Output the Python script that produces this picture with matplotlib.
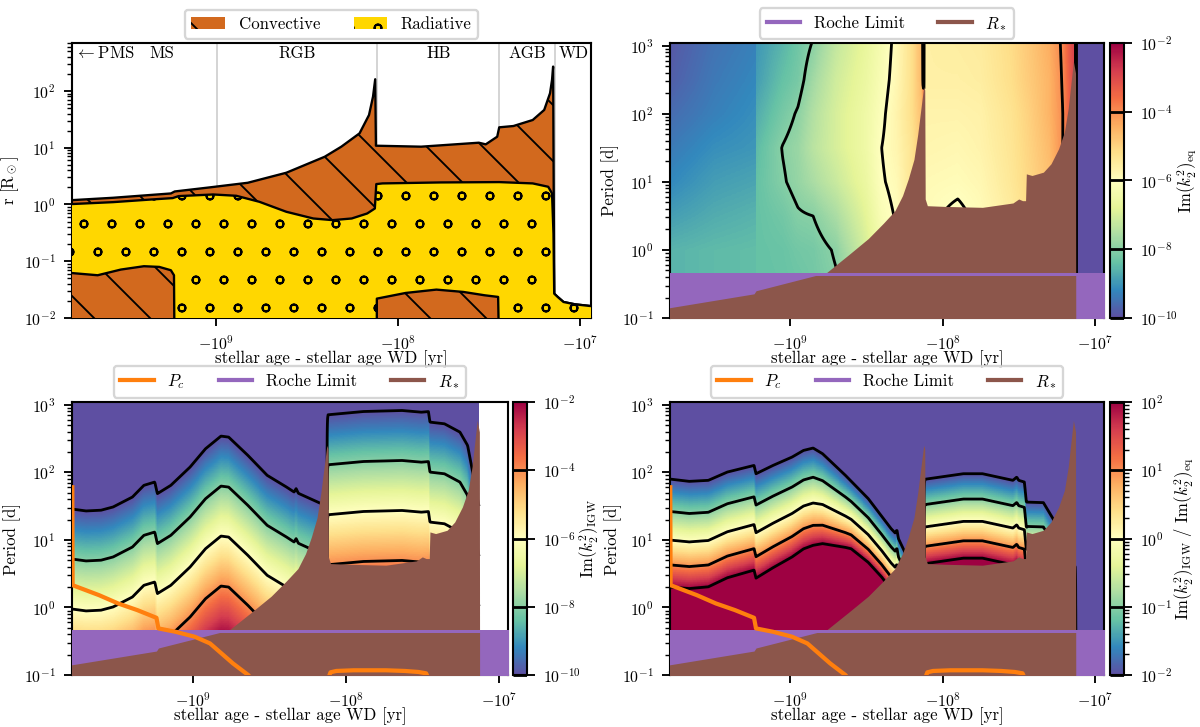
import numpy as np
import matplotlib
matplotlib.use('Agg')
import matplotlib.pyplot as plt
import matplotlib.hatch as mhatch
from matplotlib.colors import LogNorm
from matplotlib.patches import Patch
from matplotlib.lines import Line2D
from matplotlib.ticker import FixedLocator, NullLocator, FuncFormatter
import matplotlib.transforms as mtransforms

plt.rcParams.update({
    'font.family': 'serif',
    'font.serif': ['cmr10'],
    'mathtext.fontset': 'cm',
    'axes.formatter.use_mathtext': True,
    'font.size': 7.2,
    'xtick.labelsize': 6.8,
    'ytick.labelsize': 6.8,
    'hatch.linewidth': 0.8,
    'axes.linewidth': 0.9,
})

# smaller ring hatch ('o') to match the reference's small circles
try:
    class _TinyCircles(mhatch.Circles):
        size = 0.13

        def __init__(self, hatch, density):
            self.num_rows = hatch.count('o') * density
            super().__init__(hatch, density)

    mhatch._hatch_types = [(_TinyCircles if c is mhatch.SmallCircles else c) for c in mhatch._hatch_types]
except Exception:
    pass

# ---------------- data (log10 |stellar age - age WD| in yr) ----------------
# top-left: stellar structure, log10 r [Rsun]
surf_lt = [9.80, 9.79, 9.564, 9.247, 9.226, 9.036, 8.825, 8.613, 8.402, 8.311, 8.211, 8.159, 8.137,
           8.125, 8.121, 7.873, 7.556, 7.518, 7.455, 7.444, 7.366, 7.260, 7.197, 7.165, 7.154, 7.148,
           7.142, 7.123, 7.091, 7.028, 6.93]
surf_lr = [0.400, 0.076, 0.118, 0.194, 0.229, 0.300, 0.382, 0.559, 0.841, 1.018, 1.253, 1.576, 1.900,
           2.206, 1.035, 1.018, 1.088, 1.059, 1.194, 1.359, 1.382, 1.488, 1.665, 1.959, 2.194, 2.429,
           -1.571, -1.629, -1.718, -1.759, -1.794]
rad_top_lt = [9.80, 9.564, 9.353, 9.237, 9.205, 9.015, 8.888, 8.761, 8.613, 8.465, 8.359, 8.254, 8.169,
              8.127, 8.119, 8.085, 7.767, 7.444, 7.260, 7.175, 7.154, 7.146, 7.142, 7.123, 7.091, 7.028, 6.93]
rad_top_lr = [0.006, 0.041, 0.088, 0.112, 0.147, 0.176, 0.153, 0.047, -0.129, -0.247, -0.276, -0.247,
              -0.159, -0.071, 0.359, 0.371, 0.388, 0.394, 0.371, 0.312, 0.194, -0.512, -1.571, -1.629,
              -1.718, -1.759, -1.794]
core_ms_lt = [9.80, 9.649, 9.522, 9.395, 9.311, 9.247, 9.230, 9.226]
core_ms_lr = [-1.206, -1.247, -1.147, -1.088, -1.100, -1.159, -1.247, -3.0]
core_hb_lt = [8.1165, 8.116, 7.958, 7.789, 7.641, 7.524, 7.450, 7.442]
core_hb_lr = [-3.0, -1.659, -1.559, -1.500, -1.541, -1.600, -1.629, -3.0]
phase_bounds_lt = [8.994, 8.116, 7.444, 7.140]
phase_names = ['MS', 'RGB', 'HB', 'AGB', 'WD']
phase_label_lt = [9.298, 8.554, 7.778, 7.288, 7.034]

# shared for period panels: log10 P [d]
rstar_lt = [9.80, 9.238, 9.225, 8.763, 8.613, 8.488, 8.388, 8.313, 8.263, 8.225, 8.188, 8.163, 8.138,
            8.124, 8.117, 8.114, 8.100, 7.988, 7.738, 7.538, 7.500, 7.475, 7.455, 7.450, 7.413, 7.338,
            7.288, 7.238, 7.200, 7.175, 7.158, 7.141, 7.127, 7.125, 6.90]
rstar_lp = [-0.852, -0.645, -0.600, -0.335, -0.064, 0.167, 0.394, 0.576, 0.798, 1.044, 1.33, 1.70, 2.15,
            2.400, 2.350, 0.749, 0.650, 0.640, 0.626, 0.690, 0.749, 0.724, 0.724, 1.118, 1.094, 1.143,
            1.266, 1.488, 1.734, 2.079, 2.424, 2.770, 2.600, -2.0, -2.0]
roche_P = 0.465
roche_band_lo_P = 0.415
pc1_lt = [9.788, 9.786, 9.613, 9.488, 9.363, 9.238, 9.225, 9.113, 8.988, 8.888, 8.813, 8.738, 8.638, 8.60]
pc1_lp = [1.78, 0.33, 0.182, 0.059, -0.039, -0.153, -0.310, -0.360, -0.433, -0.532, -0.680, -0.828, -1.0, -1.1]
pc2_lt = [8.115, 8.10, 8.063, 7.95, 7.863, 7.738, 7.613, 7.525, 7.475, 7.46]
pc2_lp = [-1.05, -0.96, -0.94, -0.93, -0.93, -0.93, -0.94, -0.955, -0.975, -1.05]

# bottom-left: position of the 1e-10 contour of Im(k2)_IGW, and spacing per 2 decades
bl_top_lt = [9.81, 9.698, 9.60, 9.521, 9.395, 9.320, 9.249, 9.232, 9.144, 9.018, 8.917, 8.816, 8.766,
             8.640, 8.514, 8.388, 8.338, 8.325, 8.31, 8.161, 8.121, 8.119, 7.884, 7.632, 7.506, 7.46,
             7.45, 7.355, 7.254, 7.204, 7.179, 7.13]
bl_top_lp = [1.463, 1.429, 1.44, 1.488, 1.635, 1.808, 1.857, 1.685, 1.808, 2.079, 2.350, 2.537, 2.522,
             2.251, 1.956, 1.783, 1.709, 1.76, 1.69, 1.537, 1.45, 2.852, 2.901, 2.916, 2.891, 2.90,
             2.744, 2.719, 2.596, 2.399, 2.103, 1.5]
bl_gap = 0.74

# bottom-right: position of the 1e-2 contour of the ratio and distance to the 1e2 contour
br_top_lt = [9.81, 9.663, 9.538, 9.413, 9.238, 9.225, 9.113, 8.988, 8.913, 8.850, 8.788, 8.638, 8.488,
             8.338, 8.31, 8.30, 8.29, 8.238, 8.20, 8.121, 8.119, 7.863, 7.738, 7.538, 7.513, 7.50,
             7.463, 7.45, 7.338, 7.275, 7.20, 7.13]
br_top_lp = [1.906, 1.867, 1.882, 2.005, 2.103, 1.980, 2.103, 2.227, 2.325, 2.360, 2.276, 1.956, 1.611,
             1.167, 1.10, 1.15, 1.02, 0.773, 0.62, 0.35, 1.897, 1.980, 1.980, 1.882, 1.93, 1.882,
             1.857, 1.56, 1.552, 1.315, 1.0, 0.6]
br_span_lt = [9.81, 9.24, 8.85, 8.60, 8.40, 8.121, 8.119, 7.45, 7.44, 7.13]
br_span = [1.60, 1.55, 1.44, 1.0, 0.9, 0.9, 1.25, 1.25, 1.2, 1.2]
br_frac = [0.0, 0.30, 0.565, 0.795, 1.0]

# top-right: log10 Im(k2)_eq at nodes (rows: ages, columns: periods)
tr_lt = [9.81, 9.50, 9.227, 9.223, 9.05, 8.95, 8.85, 8.70, 8.50, 8.40, 8.30, 8.20, 8.14, 8.128, 8.121,
         8.119, 7.90, 7.75, 7.55, 7.445, 7.44, 7.30, 7.21, 7.15, 7.128, 7.126, 6.90]
tr_lp = [-1.0, 0.0, 0.5, 1.0, 1.5, 2.0, 2.5, 3.1]
tr_val = [
    [-8.6, -8.6, -8.9, -9.2, -9.4, -9.6, -9.8, -9.9],
    [-8.5, -8.5, -8.7, -8.9, -9.1, -9.3, -9.4, -9.5],
    [-8.45, -8.45, -8.6, -8.8, -9.0, -9.1, -9.2, -9.3],
    [-8.4, -8.4, -8.4, -8.4, -8.5, -8.7, -8.9, -9.0],
    [-8.4, -8.35, -8.25, -8.05, -7.98, -8.2, -8.4, -8.6],
    [-8.4, -8.25, -8.05, -7.85, -7.8, -7.95, -8.2, -8.3],
    [-8.3, -8.2, -8.0, -7.6, -7.4, -7.5, -7.7, -8.0],
    [-8.15, -7.95, -7.6, -7.2, -7.0, -7.0, -7.1, -7.3],
    [-7.3, -7.0, -6.8, -6.6, -6.5, -6.5, -6.6, -6.7],
    [-6.6, -6.4, -6.2, -6.05, -6.0, -6.1, -6.2, -6.3],
    [-6.1, -6.0, -5.95, -5.85, -5.75, -5.7, -5.8, -5.85],
    [-5.4, -5.4, -5.3, -5.3, -5.3, -5.2, -5.2, -5.2],
    [-5.0, -5.0, -4.9, -4.8, -4.8, -4.7, -4.6, -4.6],
    [-4.8, -4.8, -4.7, -4.6, -4.5, -4.3, -3.9, -3.8],
    [-4.8, -4.8, -4.7, -4.6, -4.5, -4.3, -3.9, -3.8],
    [-5.9, -5.9, -5.9, -5.85, -5.75, -5.7, -5.6, -5.6],
    [-6.1, -6.1, -6.1, -5.9, -5.8, -5.7, -5.6, -5.55],
    [-5.95, -5.95, -5.9, -5.8, -5.7, -5.65, -5.55, -5.5],
    [-5.6, -5.6, -5.5, -5.4, -5.35, -5.3, -5.2, -5.15],
    [-5.3, -5.3, -5.2, -5.1, -5.05, -5.0, -4.9, -4.85],
    [-5.3, -5.3, -5.2, -5.1, -5.05, -5.0, -4.9, -4.85],
    [-4.9, -4.9, -4.8, -4.7, -4.6, -4.5, -4.5, -4.4],
    [-4.3, -4.3, -4.2, -4.1, -4.0, -4.0, -3.95, -3.9],
    [-3.4, -3.4, -3.3, -3.2, -3.2, -3.1, -3.1, -3.0],
    [-3.2, -3.2, -3.1, -3.0, -3.0, -2.9, -2.9, -2.9],
    [-11.0] * 8,
    [-11.0] * 8,
]

# ---------------- helpers ----------------
conv_color = '#D2691E'
rad_color = '#FFD700'
X_LEFT, X_RIGHT = 9.79, 6.94


def tx(lt):
    return -10.0 ** np.asarray(lt, dtype=float)


def interp_desc(xq, xp, fp):
    xp = np.asarray(xp, float)[::-1]
    fp = np.asarray(fp, float)[::-1]
    return np.interp(xq, xp, fp)


def setup_x(ax):
    ax.set_xscale('symlog', linthresh=1e3)
    ax.set_xlim(tx(X_LEFT), tx(X_RIGHT))
    ax.xaxis.set_major_locator(FixedLocator([-1e9, -1e8, -1e7]))
    ax.xaxis.set_major_formatter(FuncFormatter(lambda v, p: r'$-10^{%d}$' % round(np.log10(-v))))
    ax.xaxis.set_minor_locator(NullLocator())
    ax.set_xlabel('stellar age - stellar age WD [yr]', labelpad=-1)


fig = plt.figure(figsize=(1200 / 168, 727 / 168), dpi=168)
axTL = fig.add_axes([0.06, 0.5626, 0.4325, 0.3783])
axTR = fig.add_axes([0.5583, 0.5626, 0.3617, 0.3783])
caxTR = fig.add_axes([0.925, 0.5626, 0.0117, 0.3783])
axBL = fig.add_axes([0.06, 0.0715, 0.3633, 0.3755])
caxBL = fig.add_axes([0.4275, 0.0715, 0.0117, 0.3755])
axBR = fig.add_axes([0.5583, 0.0715, 0.3617, 0.3755])
caxBR = fig.add_axes([0.925, 0.0715, 0.0117, 0.3755])

LEG_KW = dict(loc='lower center', bbox_to_anchor=(0.5, 1.0), borderaxespad=0.25)

# ---------------- top-left ----------------
ax = axTL
ax.set_yscale('log')
ax.fill_between(tx(surf_lt), 1e-3, 10 ** np.array(surf_lr), facecolor=conv_color, edgecolor='k',
                hatch='\\', lw=1.0, zorder=2)
ax.fill_between(tx(rad_top_lt), 1e-3, 10 ** np.array(rad_top_lr), facecolor=rad_color, edgecolor='k',
                hatch='o', lw=1.0, zorder=3)
for clt, clr in [(core_ms_lt, core_ms_lr), (core_hb_lt, core_hb_lr)]:
    ax.fill_between(tx(clt), 1e-3, 10 ** np.array(clr), facecolor=conv_color, edgecolor='k',
                    hatch='\\', lw=1.0, zorder=4)
for b in phase_bounds_lt:
    ax.axvline(tx(b), color='lightgray', lw=0.8, zorder=1)
trans = mtransforms.blended_transform_factory(ax.transData, ax.transAxes)
for name, plt_lt in zip(phase_names, phase_label_lt):
    ax.text(tx(plt_lt), 0.963, name, transform=trans, ha='center', va='center', zorder=6)
ax.text(0.006, 0.963, r'$\leftarrow$PMS', transform=ax.transAxes, ha='left', va='center', zorder=6)
setup_x(ax)
ax.set_ylim(1e-2, 700)
ax.set_ylabel(r'r [$\mathrm{R}_\odot$]', labelpad=1)
ax.legend(handles=[Patch(facecolor=conv_color, edgecolor='k', hatch='\\', lw=0, label='Convective'),
                   Patch(facecolor=rad_color, edgecolor='k', hatch='o', lw=0, label='Radiative')],
          ncol=2, **LEG_KW)

# ---------------- grids ----------------
lt_f = np.linspace(9.81, 6.92, 900)
lp_f = np.linspace(-1.05, 3.1, 420)
Xf = tx(lt_f)
Yf = 10 ** lp_f

# top-right field
tr_arr = np.array(tr_val)
cols = np.array([interp_desc(lt_f, tr_lt, tr_arr[:, j]) for j in range(len(tr_lp))])
Z_tr = np.empty((len(lp_f), len(lt_f)))
for i in range(len(lt_f)):
    Z_tr[:, i] = np.interp(lp_f, tr_lp, cols[:, i])

# bottom-left field
top_bl = interp_desc(lt_f, bl_top_lt, bl_top_lp)
Z_bl = -10.0 + (top_bl[None, :] - lp_f[:, None]) * (2.0 / bl_gap)
Z_bl[:, lt_f < 7.126] = np.nan

# bottom-right field
top_br = interp_desc(lt_f, br_top_lt, br_top_lp)
span_br = interp_desc(lt_f, br_span_lt, br_span)
d = (top_br[None, :] - lp_f[:, None]) / span_br[None, :]
lev = np.interp(d, br_frac, [0, 1, 2, 3, 4])
lev = np.where(d < 0, d / br_frac[1], lev)
lev = np.where(d > 1, 4 + (d - 1) / (1 - br_frac[3]), lev)
Z_br = -2.0 + lev
Z_br[:, lt_f < 7.126] = -5.0


def period_panel(ax, cax, Z, vmin, vmax, levels, clabel, with_pc, cbar_ticks=None, minor=True,
                 ylabelpad=1, cbarpad=1):
    norm = LogNorm(vmin=vmin, vmax=vmax)
    V = np.ma.masked_invalid(10.0 ** Z)
    mesh = ax.pcolormesh(Xf, Yf, V, cmap='Spectral_r', norm=norm, shading='nearest', zorder=1,
                         rasterized=True)
    cs = ax.contour(Xf, Yf, V, levels=levels, colors='k', linewidths=1.2, zorder=2)
    xs = tx([9.9, 6.8])
    ax.fill_between(xs, 1e-3, roche_P, color='tab:purple', lw=0, zorder=3)
    ax.fill_between(tx(rstar_lt), 1e-3, 10 ** np.array(rstar_lp), color='tab:brown', lw=0, zorder=4)
    ax.fill_between(xs, roche_band_lo_P, roche_P, color='tab:purple', lw=0, zorder=5)
    handles = []
    if with_pc:
        l1, = ax.plot(tx(pc1_lt), 10 ** np.array(pc1_lp), color='tab:orange', lw=1.8, zorder=6,
                      label=r'$P_c$')
        ax.plot(tx(pc2_lt), 10 ** np.array(pc2_lp), color='tab:orange', lw=1.8, zorder=6)
        handles.append(l1)
    handles += [Line2D([], [], color='tab:purple', lw=1.8, label='Roche Limit'),
                Line2D([], [], color='tab:brown', lw=1.8, label=r'$R_*$')]
    ax.set_yscale('log')
    setup_x(ax)
    ax.set_ylim(0.1, 1100)
    ax.set_ylabel('Period [d]', labelpad=ylabelpad)
    ax.legend(handles=handles, ncol=len(handles), **LEG_KW)
    cb = fig.colorbar(mesh, cax=cax)
    cb.add_lines(cs)
    if cbar_ticks is not None:
        cb.set_ticks(cbar_ticks)
    if not minor:
        cb.ax.yaxis.set_minor_locator(NullLocator())
    cb.set_label(clabel, labelpad=cbarpad)
    return cb


period_panel(axTR, caxTR, Z_tr, 1e-10, 1e-2, [1e-10, 1e-8, 1e-6, 1e-4],
             r'$\mathrm{Im}(k_2^2)_\mathrm{eq}$', False,
             cbar_ticks=[1e-10, 1e-8, 1e-6, 1e-4, 1e-2], minor=False, cbarpad=-1)
period_panel(axBL, caxBL, Z_bl, 1e-10, 1e-2, [1e-10, 1e-8, 1e-6, 1e-4],
             r'$\mathrm{Im}(k_2^2)_\mathrm{IGW}$', True,
             cbar_ticks=[1e-10, 1e-8, 1e-6, 1e-4, 1e-2], minor=False, cbarpad=-1.5)
period_panel(axBR, caxBR, Z_br, 1e-2, 1e2, [1e-2, 1e-1, 1, 1e1, 1e2],
             r'$\mathrm{Im}(k_2^2)_\mathrm{IGW}$ / $\mathrm{Im}(k_2^2)_\mathrm{eq}$', True,
             ylabelpad=0, cbarpad=0)

fig.savefig('out.png', dpi=168)
